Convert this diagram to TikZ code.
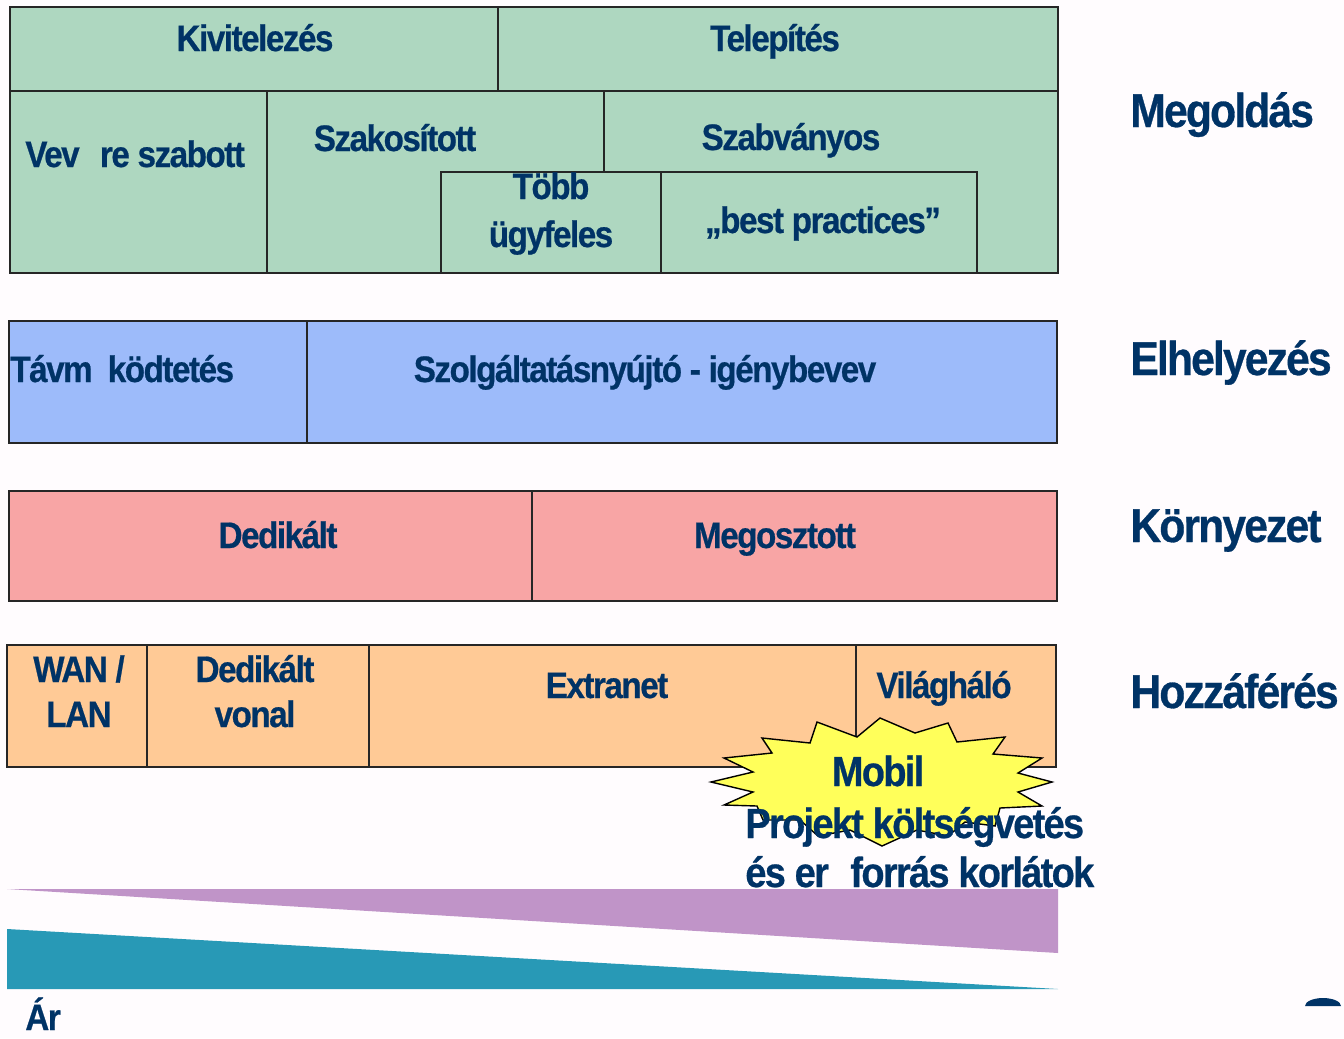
\documentclass[tikz,border=0pt]{standalone}
\usepackage{fontspec}
\setmainfont{Liberation Sans}[FakeStretch=0.9,LetterSpace=-4,FakeBold=0.6]
\definecolor{ink}{RGB}{0,51,102}
\definecolor{mintgreen}{RGB}{174,215,192}
\definecolor{skyblue}{RGB}{157,187,250}
\definecolor{salmon}{RGB}{248,165,165}
\definecolor{apricot}{RGB}{255,202,150}
\definecolor{starfill}{RGB}{255,255,90}
\definecolor{lilac}{RGB}{192,148,200}
\definecolor{tealband}{RGB}{40,153,182}
\definecolor{paper}{RGB}{255,252,254}
\begin{document}
\begin{tikzpicture}[x=0.02cm,y=-0.02cm]
\tikzset{cell/.style={draw=black!85, line width=0.8pt},
  lbl/.style={text=ink, inner sep=0pt, anchor=base, font=\fontsize{21}{24}\selectfont\bfseries},
  side/.style={lbl, anchor=base west, font=\fontsize{27}{30}\selectfont\bfseries},
  note/.style={lbl, font=\fontsize{24}{27}\selectfont\bfseries}}
    \fill[paper] (0,0) rectangle (1344,1038);
    \useasboundingbox (0,0) rectangle (1344,1038);

    % Megoldas
    \filldraw[cell, fill=mintgreen] (10,7) rectangle (1058,273);
    \draw[cell] (10,91) -- (1058,91);
    \draw[cell] (498,7) -- (498,91);
    \draw[cell] (267,91) -- (267,273);
    \draw[cell] (604,91) -- (604,172);
    \draw[cell] (441,273) -- (441,172) -- (977,172) -- (977,273);
    \draw[cell] (661,172) -- (661,273);
    \node[lbl] at (255,51) (kivit) {Kivitelezés};
    \node[lbl] at (775,51) (telep) {Telepítés};
    \node[lbl, anchor=base west] at (25,167) (vevo) {Vev\phantom{ő}re szabott};
    \node[lbl] at (395,151) (szakos) {Szakosított};
    \node[lbl] at (791,150) (szabv) {Szabványos};
    \node[lbl] at (551,199) (tobb) {Több};
    \node[lbl] at (551,247) (ugyf) {ügyfeles};
    \node[lbl] at (823,233) (best) {„best practices”};
    \node[side] at (1130,127) (megold) {Megoldás};

    % Elhelyezes
    \filldraw[cell, fill=skyblue] (9,321) rectangle (1057,443);
    \draw[cell] (307,321) -- (307,443);
    \node[lbl, anchor=base west] at (10,382) (tavm) {Távm\hspace{0.2em} ködtetés};
    \node[lbl] at (645,382) (szolg) {Szolgáltatásnyújtó - igénybevev};
    \node[side] at (1130,375) (elhely) {Elhelyezés};

    % Kornyezet
    \filldraw[cell, fill=salmon] (9,491) rectangle (1057,601);
    \draw[cell] (532,491) -- (532,601);
    \node[lbl] at (278,548) (dedik) {Dedikált};
    \node[lbl] at (775,548) (megoszt) {Megosztott};
    \node[side] at (1130,542) (kornyez) {Környezet};

    % Hozzaferes
    \filldraw[cell, fill=apricot] (7,645) rectangle (1056,767);
    \draw[cell] (147,645) -- (147,767);
    \draw[cell] (369,645) -- (369,767);
    \draw[cell] (856,645) -- (856,767);
    \node[lbl] at (79,682) (wan) {WAN /};
    \node[lbl] at (79,727) (lan) {LAN};
    \node[lbl] at (255,682) (dedvon) {Dedikált};
    \node[lbl] at (255,727) (vonal) {vonal};
    \node[lbl] at (607,698) (extra) {Extranet};
    \node[lbl] at (944,698) (vilag) {Világháló};
    \node[side] at (1130,708) (hozza) {Hozzáférés};

    % arak
    \fill[lilac] (7,889) -- (1058,889) -- (1058,953) -- cycle;
    \fill[tealband] (7,929) -- (1058,989) -- (7,989) -- cycle;

    % csillag
    \filldraw[draw=black, line width=0.8pt, fill=starfill]
      (817,722) -- (857,737) -- (880,718) -- (915,733) -- (948,723) -- (957,742)
      -- (1005,737) -- (993,754) -- (1042,758) -- (1018,773) -- (1052,782)
      -- (1018,792) -- (1042,806) -- (1000,808) -- (995,826) -- (965,822)
      -- (948,836) -- (917,830) -- (882,846) -- (850,830) -- (818,836)
      -- (800,820) -- (763,820) -- (757,806) -- (724,805) -- (753,792)
      -- (711,782) -- (753,772) -- (724,758) -- (772,753) -- (762,738)
      -- (810,743) -- cycle;
    \node[note] at (878,786) (mobil) {Mobil};
    \node[note, anchor=base west] at (745,838) (projekt) {Projekt költségvetés};
    \node[note, anchor=base west] at (745,887) (korlat) {és er\hspace{0.3em} forrás korlátok};

    \node[lbl, anchor=base west] at (25,1030) (ar) {Ár};
    \fill[ink] (1305,1006) arc (180:360:18 and 8) -- cycle;
\end{tikzpicture}
\end{document}
